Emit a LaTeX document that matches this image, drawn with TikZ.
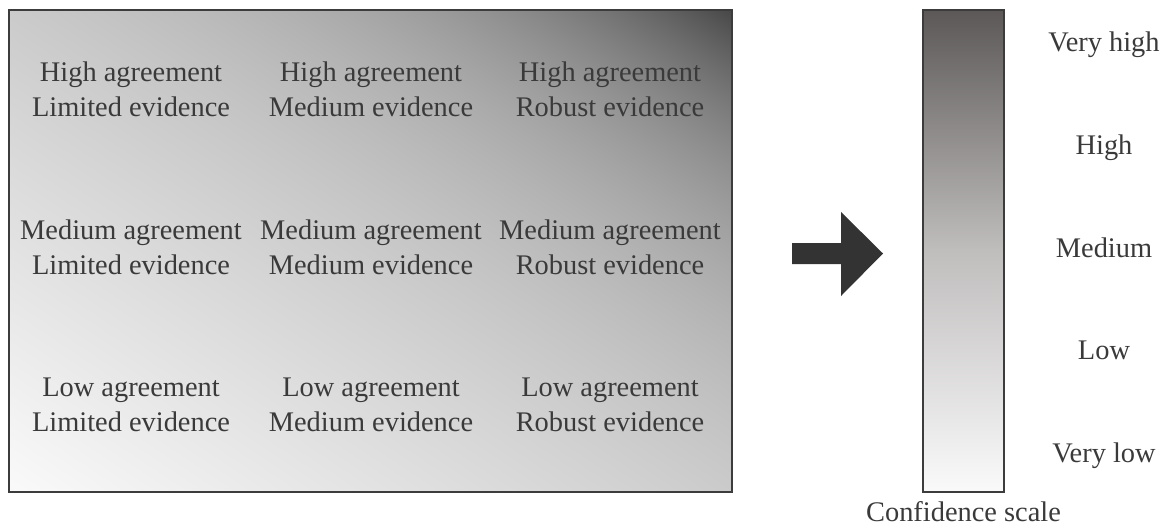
\documentclass[tikz,border=0pt]{standalone}
\usepackage{fontspec}
\setmainfont{Liberation Serif}
\usetikzlibrary{positioning}
\definecolor{textgray}{HTML}{3A3A3A}
\definecolor{framegray}{HTML}{3C3C3C}
\definecolor{lightshade}{HTML}{FAFAFA}
\definecolor{bartop}{HTML}{5C5858}
\definecolor{barmid}{HTML}{C0BDBD}
\definecolor{arrowgray}{HTML}{333333}

% diagonal grey ramp, dark in the upper right corner
\pgfdeclarefunctionalshading{matrixshade}{\pgfpoint{0bp}{0bp}}{\pgfpoint{100bp}{100bp}}{}{
  add 50 sub 100 div
  dup 0 lt {pop 0} if
  dup 1 gt {pop 1} if
  dup dup mul dup dup mul mul 0.34 mul
  exch 0.36 mul add
  0.98 exch sub
  dup dup
}

\begin{document}
\begin{tikzpicture}[x=1pt, y=-1pt,
  cell/.style={align=center, inner sep=0pt, text=textgray, font=\fontsize{28.4}{35}\selectfont},
  lbl/.style={inner sep=0pt, text=textgray, font=\fontsize{28.4}{35}\selectfont, anchor=base},
  frame/.style={draw=framegray, line width=2pt}
]
  \useasboundingbox (0,0) rectangle (1166,527);

  % evidence / agreement matrix
  \node[frame, shade, shading=matrixshade, minimum width=723pt, minimum height=482pt] (grid) at (370.5,251) {};

  \node[cell] (hilim)  at (131,88.8)  {High agreement\\Limited evidence};
  \node[cell] (himed)  at (371,88.8)  {High agreement\\Medium evidence};
  \node[cell] (hirob)  at (610,88.8)  {High agreement\\Robust evidence};
  \node[cell] (medlim) at (131,246.8) {Medium agreement\\Limited evidence};
  \node[cell] (medmed) at (371,246.8) {Medium agreement\\Medium evidence};
  \node[cell] (medrob) at (610,246.8) {Medium agreement\\Robust evidence};
  \node[cell] (lowlim) at (131,404.8) {Low agreement\\Limited evidence};
  \node[cell] (lowmed) at (371,404.8) {Low agreement\\Medium evidence};
  \node[cell] (lowrob) at (610,404.8) {Low agreement\\Robust evidence};

  % block arrow
  \fill[arrowgray] (792,243) -- (841,243) -- (841,212) -- (883,253.5)
    -- (841,296) -- (841,264) -- (792,264) -- cycle;

  % confidence bar
  \node[frame, minimum width=81pt, minimum height=482pt,
        top color=bartop, bottom color=lightshade, middle color=barmid] (bar) at (963.5,251) {};

  \node[lbl] (vhigh)  at (1104,52)    {Very high};
  \node[lbl] (high)   at (1104,154.5) {High};
  \node[lbl] (medium) at (1104,257)   {Medium};
  \node[lbl] (low)    at (1104,359.5) {Low};
  \node[lbl] (vlow)   at (1104,462)   {Very low};

  \node[lbl, below=8pt of bar] (conf) {Confidence scale};
\end{tikzpicture}
\end{document}
